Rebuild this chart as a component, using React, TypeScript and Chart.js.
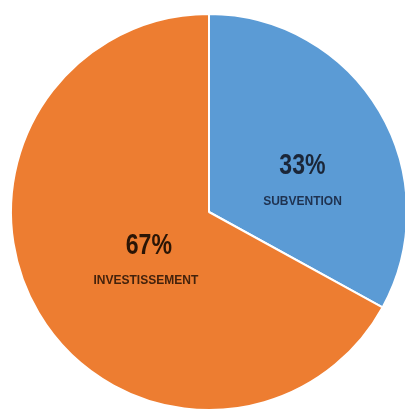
import React, { useEffect, useRef } from "react";
import { Chart, registerables } from "chart.js";

Chart.register(...registerables);

const categories = ["SUBVENTION", "INVESTISSEMENT"];
const values = [33, 67];
const percentLabels = ["33%", "67%"];
const sliceColors = ["#5B9BD5", "#ED7D31"];
const pctColors = ["#1b2638", "#2a1506"];
const nameColors = ["#1f3250", "#43220c"];

// label placement: angle offset (deg) from slice mid-angle, radius fraction
const labelPlacement = [
  { dAngle: 13.5, frac: 0.494, gap: 18 },
  { dAngle: -10, frac: 0.4, gap: 17.5 },
];

const labelPlugin = {
  id: "sliceLabels",
  afterDatasetsDraw(chart: any) {
    const ctx = chart.ctx;
    const meta = chart.getDatasetMeta(0);
    meta.data.forEach((arc: any, i: number) => {
      const p = labelPlacement[i];
      const mid = (arc.startAngle + arc.endAngle) / 2 + (p.dAngle * Math.PI) / 180;
      const r = arc.outerRadius * p.frac;
      const x = arc.x + Math.cos(mid) * r;
      const y = arc.y + Math.sin(mid) * r;
      ctx.save();
      ctx.textAlign = "center";
      ctx.textBaseline = "middle";
      // percentage (condensed bold)
      ctx.save();
      ctx.translate(x, y - p.gap);
      ctx.scale(0.77, 1);
      ctx.font = "bold 30px 'Liberation Sans', Arial, sans-serif";
      ctx.fillStyle = pctColors[i];
      ctx.fillText(percentLabels[i], 0, 0);
      ctx.restore();
      // category name
      ctx.font = "bold 12px 'Liberation Sans', Arial, sans-serif";
      ctx.fillStyle = nameColors[i];
      ctx.fillText(categories[i], x - (i === 1 ? 3 : 0), y + p.gap);
      ctx.restore();
    });
  },
};

export default function App() {
  const ref = useRef<HTMLCanvasElement | null>(null);
  useEffect(() => {
    if (!ref.current) return;
    const chart = new Chart(ref.current, {
      type: "pie",
      data: {
        labels: categories,
        datasets: [
          {
            data: values,
            backgroundColor: sliceColors,
            borderColor: "#ffffff",
            borderWidth: 2,
          },
        ],
      },
      options: {
        responsive: false,
        animation: false,
        layout: { padding: { left: 10, top: 13, right: 0, bottom: 13 } },
        plugins: {
          legend: { display: false },
          tooltip: { enabled: false },
        },
      },
      plugins: [labelPlugin],
    });
    return () => chart.destroy();
  }, []);
  return (
    <div
      style={{
        position: "fixed",
        left: 0,
        top: 0,
        width: 405,
        height: 411,
        overflow: "hidden",
        background: "#ffffff",
      }}
    >
      <canvas ref={ref} width={408} height={424} style={{ display: "block" }} />
    </div>
  );
}
